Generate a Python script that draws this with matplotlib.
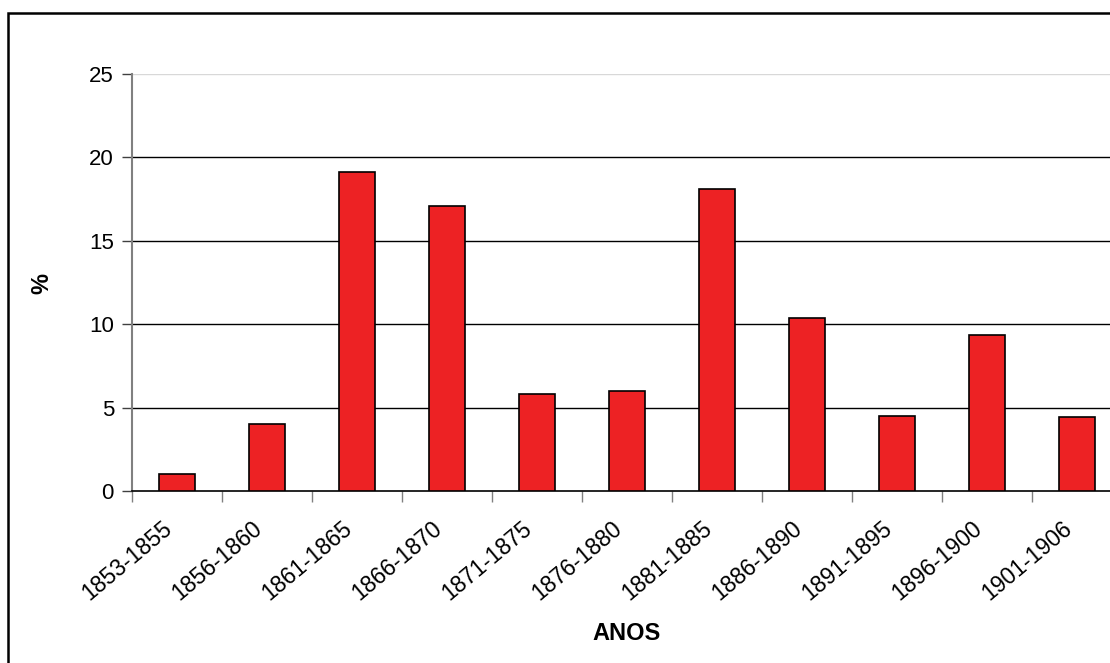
import matplotlib
matplotlib.use("Agg")
import matplotlib.pyplot as plt
import matplotlib.patches as mpatches
import matplotlib.transforms as mtransforms
import numpy as np

plt.rcParams['font.family'] = ['Liberation Sans', 'DejaVu Sans']

categories = ["1853-1855", "1856-1860", "1861-1865", "1866-1870", "1871-1875",
              "1876-1880", "1881-1885", "1886-1890", "1891-1895", "1896-1900",
              "1901-1906"]
values = [1.0, 4.0, 19.1, 17.1, 5.8, 6.0, 18.1, 10.4, 4.5, 9.35, 4.45]
yticks = [0, 5, 10, 15, 20, 25]

W, H = 1110, 663
fig = plt.figure(figsize=(W / 100, H / 100), dpi=100)
fig.patch.set_facecolor('white')

x0, x1 = 132, 1122
ytop, ybot = 74, 491
ax = fig.add_axes([x0 / W, 1 - ybot / H, (x1 - x0) / W, (ybot - ytop) / H])

x = np.arange(len(categories))
ax.bar(x, values, width=0.41, color='#ED2224', edgecolor='black', linewidth=1.2, zorder=3)

ax.set_xlim(-0.5, len(categories) - 0.5)
ax.set_ylim(0, 25)
ax.set_yticks(yticks)
ax.set_yticklabels([str(v) for v in yticks], fontsize=16)
ax.tick_params(axis='y', direction='out', length=7, width=1, color='#404040', pad=6)

ax.set_xticks(x)
ax.set_xticklabels(categories, rotation=40, ha='right', va='center',
                   rotation_mode='anchor', fontsize=16.5)
ax.tick_params(axis='x', which='major', length=0, pad=25)
ax.set_xticks(np.arange(len(categories) + 1) - 0.5, minor=True)
ax.tick_params(axis='x', which='minor', direction='out', length=8, width=1, color='#808080')

offset = mtransforms.ScaledTranslation(-8 / 100, 0, fig.dpi_scale_trans)
for lbl in ax.get_xticklabels():
    lbl.set_transform(lbl.get_transform() + offset)

ax.grid(axis='y', color='black', linewidth=1, zorder=0)
gl = ax.get_ygridlines()
gl[-1].set_color('#d8d8d8')
gl[0].set_visible(False)

for s in ['top', 'right']:
    ax.spines[s].set_visible(False)
ax.spines['left'].set_color('#808080')
ax.spines['left'].set_linewidth(1.5)
ax.spines['bottom'].set_color('black')
ax.spines['bottom'].set_linewidth(1.2)
ax.set_axisbelow(True)

fig.text(42 / W, 1 - 283 / H, "%", rotation=90, fontsize=17, fontweight='bold',
         ha='center', va='center')
fig.text(627 / W, 1 - 633 / H, "ANOS", fontsize=17, fontweight='bold',
         ha='center', va='center')

border = mpatches.Rectangle((8 / W, -0.1), 1.2, (H - 13) / H + 0.1,
                            transform=fig.transFigure, fill=False,
                            edgecolor='black', linewidth=1.8)
fig.patches.append(border)

fig.savefig("out.png", dpi=100)
